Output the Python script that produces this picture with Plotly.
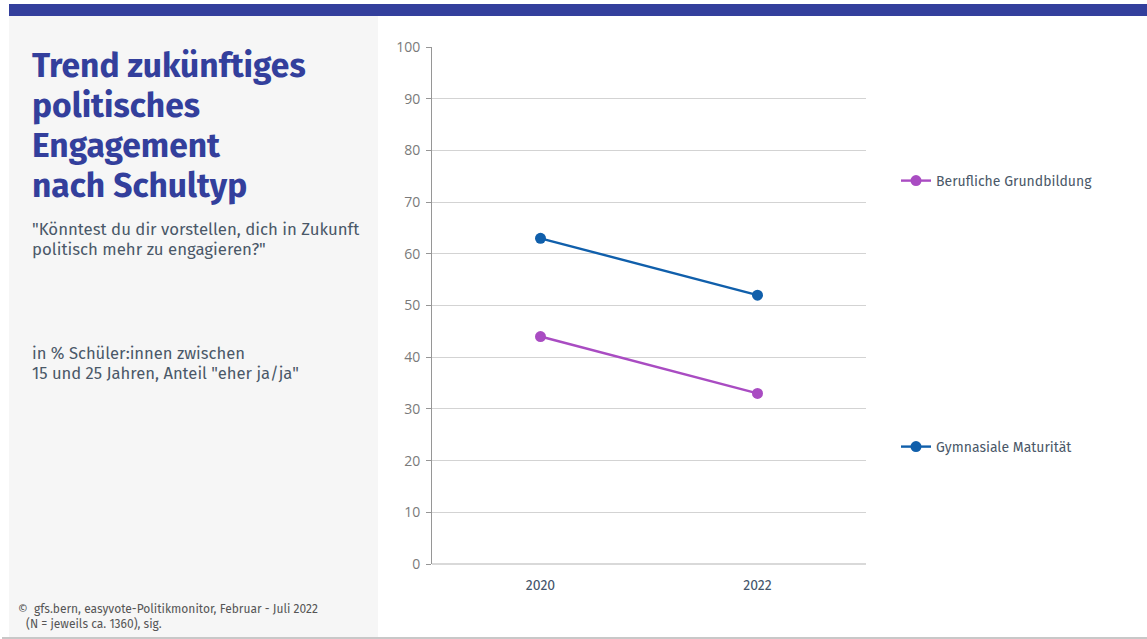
import plotly.graph_objects as go

W, H = 1147, 639

years = ["2020", "2022"]
berufliche = [44, 33]
gymnasiale = [63, 52]
series_names = ["Berufliche Grundbildung", "Gymnasiale Maturität"]
y_ticks = [0, 10, 20, 30, 40, 50, 60, 70, 80, 90, 100]

title_lines = ["Trend zukünftiges", "politisches", "Engagement", "nach Schultyp"]
question_lines = ["\"Könntest du dir vorstellen, dich in Zukunft", "politisch mehr zu engagieren?\""]
basis_lines = ["in % Schüler:innen zwischen", "15 und 25 Jahren, Anteil \"eher ja/ja\""]
source_lines = ["©  gfs.bern, easyvote-Politikmonitor, Februar - Juli 2022",
                "(N = jeweils ca. 1360), sig."]

BLUE = "#105fab"
PURPLE = "#a94cc2"
NAVY = "#333f9c"
TEXT = "#4a5868"
FONT = "Fira Sans, Noto Sans, sans-serif"


def px(x):
    return x / W


def py(y):
    return 1 - y / H


fig = go.Figure()
fig.add_trace(go.Scatter(
    x=years, y=berufliche, name=series_names[0], mode="lines+markers",
    line=dict(color=PURPLE, width=2.4), marker=dict(size=11, color=PURPLE),
    legend="legend"))
fig.add_trace(go.Scatter(
    x=years, y=gymnasiale, name=series_names[1], mode="lines+markers",
    line=dict(color=BLUE, width=2.4), marker=dict(size=11, color=BLUE),
    legend="legend2"))

shapes = [
    dict(type="rect", xref="paper", yref="paper", x0=px(9), x1=px(W), y0=py(4), y1=py(16),
         fillcolor=NAVY, line=dict(width=0), layer="below"),
    dict(type="rect", xref="paper", yref="paper", x0=px(9), x1=px(378), y0=py(16), y1=py(637),
         fillcolor="#f6f6f6", line=dict(width=0), layer="below"),
    dict(type="rect", xref="paper", yref="paper", x0=px(2), x1=px(W), y0=py(637), y1=py(H),
         fillcolor="#c8c8c8", line=dict(width=0), layer="below"),
]


def text_line(txt, x, y, size, color, bold=False):
    return dict(text=("<b>" + txt + "</b>") if bold else txt, x=px(x), y=py(y),
                xref="paper", yref="paper", xanchor="left", yanchor="middle",
                align="left", showarrow=False, font=dict(family=FONT, size=size, color=color))


annotations = []
for i, t in enumerate(title_lines):
    annotations.append(text_line(t, 30, 66 + 40 * i, 33.6, NAVY, bold=True))
for i, t in enumerate(question_lines):
    annotations.append(text_line(t, 30, 229 + 20 * i, 16.8, TEXT))
for i, t in enumerate(basis_lines):
    annotations.append(text_line(t, 30, 353 + 20 * i, 16.6, TEXT))
annotations.append(text_line(source_lines[0], 16, 609, 12, "#555555"))
annotations.append(text_line(source_lines[1], 24, 624, 12, "#555555"))

fig.update_layout(
    width=W, height=H,
    margin=dict(l=0, r=0, t=0, b=0, autoexpand=False),
    paper_bgcolor="white", plot_bgcolor="white",
    font=dict(family=FONT, color=TEXT),
    showlegend=True,
    shapes=shapes, annotations=annotations,
    xaxis=dict(domain=[px(432), px(866)], type="category", range=[-0.5, 1.5],
               automargin=False, showgrid=False, showline=False, ticks="",
               ticklabelstandoff=11,
               tickfont=dict(family=FONT, size=14, color="#44546a")),
    yaxis=dict(domain=[py(564), py(47)], range=[0, 100], tickvals=y_ticks,
               automargin=False,
               showgrid=True, gridcolor="#d3d3d3", gridwidth=1,
               zeroline=True, zerolinecolor="#d9d9d9", zerolinewidth=2,
               showline=True, linecolor="#969696", linewidth=1,
               ticks="outside", ticklen=5, tickcolor="#969696",
               ticklabelstandoff=3,
               tickfont=dict(family="Open Sans, Noto Sans, sans-serif", size=14, color="#7a7a7a")),
    legend=dict(x=px(896), y=py(181), xanchor="left", yanchor="middle",
                bgcolor="rgba(0,0,0,0)", font=dict(family=FONT, size=14, color=TEXT)),
    legend2=dict(x=px(896), y=py(447), xanchor="left", yanchor="middle",
                 bgcolor="rgba(0,0,0,0)", font=dict(family=FONT, size=14, color=TEXT)),
)

fig.write_html("out.html", config={"displayModeBar": False},
               post_script="document.body.style.margin='0';")
